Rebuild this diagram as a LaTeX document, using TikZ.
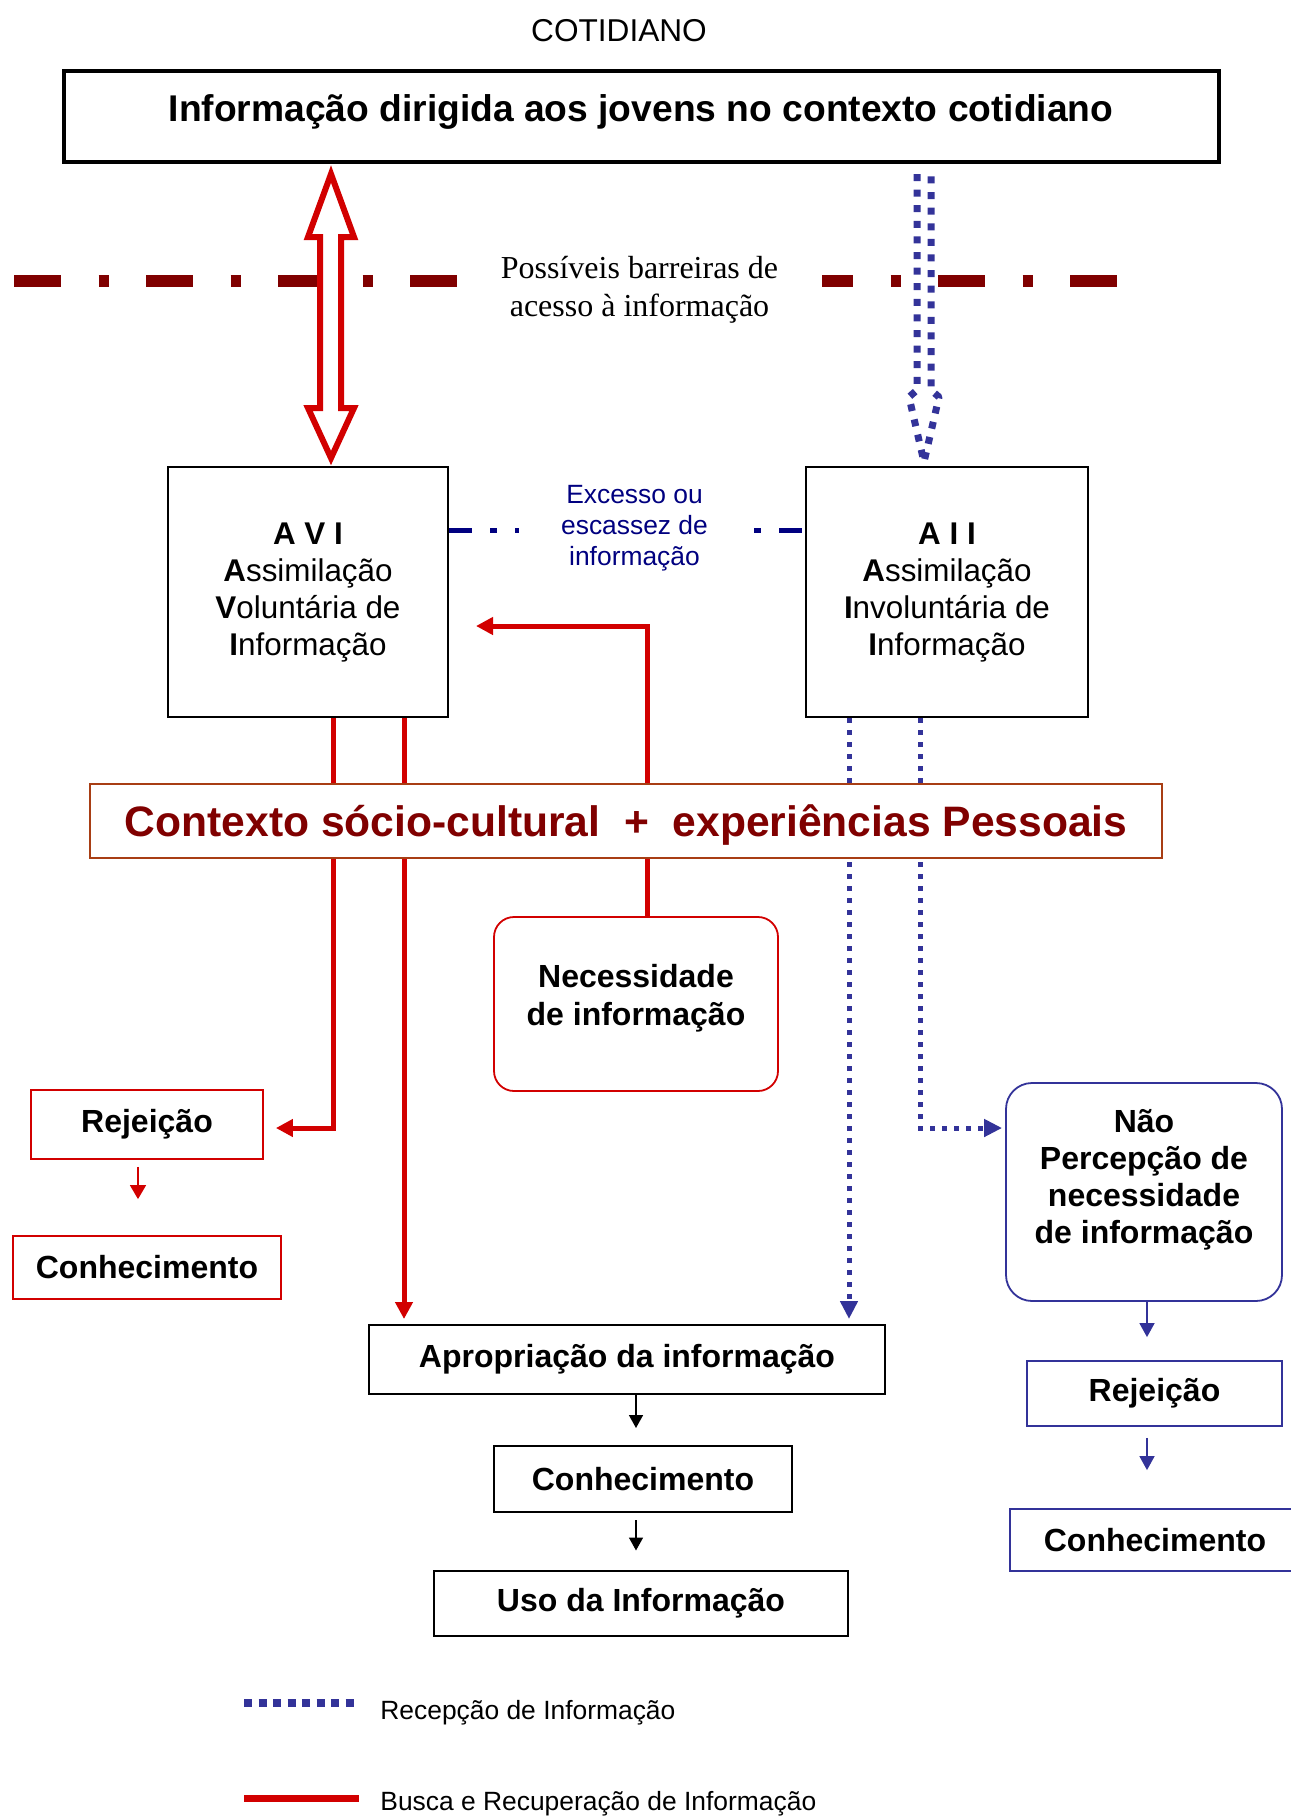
\documentclass[tikz,border=0pt]{standalone}
\usepackage{fontspec}
\setmainfont{Liberation Sans}
\newfontfamily\serifx{Liberation Serif}
\usetikzlibrary{arrows.meta,calc}
\definecolor{redA}{RGB}{210,0,0}
\definecolor{barrierred}{RGB}{128,0,0}
\definecolor{blueA}{RGB}{51,51,153}
\definecolor{navyA}{RGB}{0,0,128}
\definecolor{rust}{RGB}{168,62,20}
\definecolor{ctxred}{RGB}{128,0,0}
\tikzset{
  box/.style={draw, line width=1pt, inner sep=0pt, align=center},
  redbox/.style={draw=redA, line width=0.9pt, inner sep=0pt, align=center},
  bluebox/.style={draw=blueA, line width=0.9pt, inner sep=0pt, align=center},
  txt/.style={inner sep=0pt, align=center},
  lbl/.style={font=\fontsize{16pt}{19pt}\selectfont\bfseries},
  redline/.style={draw=redA, line width=2.5pt},
  redarrow/.style={redline, -{Triangle[length=8.5pt,width=8.5pt]}},
  bluedot/.style={draw=blueA, line width=2.5pt, dash pattern=on 2.5pt off 3.5pt},
  bluearrow/.style={bluedot, -{Triangle[length=9pt,width=8.5pt]}},
  thinred/.style={draw=redA, line width=0.8pt, -{Triangle[length=7pt,width=8pt]}},
  thinblack/.style={draw=black, line width=0.8pt, -{Triangle[length=6.5pt,width=7pt]}},
  thinblue/.style={draw=blueA, line width=0.8pt, -{Triangle[length=7pt,width=7.5pt]}},
}
\begin{document}
\begin{tikzpicture}[x=0.5pt,y=-0.5pt]
\useasboundingbox (0,0) rectangle (1291,1816);

% title
\node[txt, font=\fontsize{15.8pt}{18pt}\selectfont] (cot) at (619,31) {COTIDIANO};

% top box
\node[box, line width=1.75pt, minimum width=577.5pt, minimum height=45.5pt] (top) at (641.5,116.5) {};
\node[txt, font=\fontsize{18.6pt}{22pt}\selectfont\bfseries] (toptxt) at (641,112) {Informação dirigida aos jovens no contexto cotidiano};

% barrier line
\draw[barrierred, line width=6pt, dash pattern=on 23.5pt off 18.75pt on 5pt off 18.75pt] (14,281) -- (1118,281);
\node[txt, fill=white, minimum width=182.5pt, minimum height=40pt, font=\serifx\fontsize{16pt}{19pt}\selectfont] (barr) at (639.5,289.5) {Possíveis barreiras de\\acesso à informação};

% main boxes
\node[box, minimum width=140pt, minimum height=125pt] (avi) at (308,592) {};
\node[txt, font=\fontsize{15.7pt}{18.5pt}\selectfont] (avitxt) at (308,593)
  {\textbf{A V I}\\\textbf{A}ssimilação\\\textbf{V}oluntária de\\\textbf{I}nformação};
\node[box, minimum width=141pt, minimum height=125pt] (aii) at (947,592) {};
\node[txt, font=\fontsize{15.7pt}{18.5pt}\selectfont] (aiitxt) at (947,593)
  {\textbf{A I I}\\\textbf{A}ssimilação\\\textbf{I}nvoluntária de\\\textbf{I}nformação};

% hollow red double arrow
\draw[redA, line width=3pt, fill=white, line join=miter]
  (331,174) -- (354,237) -- (341,237) -- (341,408) -- (354,408) -- (331,458)
  -- (308,408) -- (320,408) -- (320,237) -- (308,237) -- cycle;
% hollow blue dotted arrow
\fill[white] (917,174) -- (917,390) -- (909,397) -- (924,462) -- (939,397) -- (931,390) -- (931,174) -- cycle;
\draw[blueA, line width=3.5pt, line join=round, dash pattern=on 3.5pt off 4.3pt]
  (917,174) -- (917,390) -- (909,397) -- (924,462) -- (939,397) -- (931,390) -- (931,174);

% excess / scarcity line
\draw[navyA, line width=2.5pt, dash pattern=on 11.5pt off 9pt on 3.5pt off 9pt] (avi.east |- 0,530) -- (aii.west |- 0,530);
\node[txt, fill=white, minimum width=115.5pt, minimum height=46pt, text=navyA, font=\fontsize{13.2pt}{15.5pt}\selectfont] (exc) at (634.5,528.5) {Excesso ou\\escassez de\\informação};

% other boxes
\node[redbox, rounded corners=10pt, minimum width=142pt, minimum height=87pt] (nec) at (636,1004) {};
\node[txt, lbl] (nectxt) at (636,998.5) {Necessidade\\de informação};
\node[redbox, lbl, minimum width=116pt, minimum height=34.5pt] (rejL) at (147,1124.5) {Rejeição};
\node[redbox, lbl, minimum width=134pt, minimum height=31.5pt] (conhL) at (147,1267.5) {Conhecimento};
\node[box, lbl, minimum width=258pt, minimum height=34.5pt] (apr) at (627,1359.5) {Apropriação da informação};
\node[box, lbl, minimum width=149pt, minimum height=33pt] (conhM) at (643,1479) {Conhecimento};
\node[box, lbl, minimum width=207pt, minimum height=32.5pt] (uso) at (641,1603) {Uso da Informação};
\node[bluebox, rounded corners=13pt, minimum width=138pt, minimum height=109pt] (nao) at (1144,1192) {};
\node[txt, font=\fontsize{16pt}{18.5pt}\selectfont\bfseries] (naotxt) at (1144,1180) {Não\\Percepção de\\necessidade\\de informação};
\node[bluebox, lbl, minimum width=127.5pt, minimum height=32.5pt] (rejR) at (1154.5,1393.5) {Rejeição};
\node[bluebox, lbl, minimum width=145pt, minimum height=31pt] (conhR) at (1155,1540) {Conhecimento};

% red connectors
\draw[redarrow, shorten >=13.5pt] (nec.north -| 647,0) |- (avi.east |- 0,626);
\draw[redarrow, shorten >=6pt] (avi.south -| 333,0) |- (rejL.east |- 0,1128);
\draw[redarrow, shorten >=2.5pt] (avi.south -| 404,0) -- (apr.north -| 404,0);
% blue connectors
\draw[bluearrow, shorten >=2.5pt] (aii.south -| 849,0) -- (apr.north -| 849,0);
\draw[bluearrow, shorten >=1.5pt] (aii.south -| 920,0) |- (nao.west |- 0,1128);

% context box on top
\node[draw=rust, line width=0.9pt, fill=white, minimum width=536pt, minimum height=37pt, inner sep=0pt] (ctx) at (626,821) {};
\node[txt, text=ctxred, font=\fontsize{21.3pt}{24pt}\selectfont\bfseries] (ctxtxt) at (626,825.5)
  {Contexto sócio-cultural\ \ +\ \ experiências Pessoais};

% small arrows
\draw[thinred, shorten <=3.5pt, shorten >=18pt] (rejL.south -| 138,0) -- (conhL.north -| 138,0);
\draw[thinblack, shorten >=8.5pt] (apr.south -| 636,0) -- (conhM.north -| 636,0);
\draw[thinblack, shorten <=3.5pt, shorten >=9.5pt] (conhM.south -| 636,0) -- (uso.north -| 636,0);
\draw[thinblue, shorten >=11.5pt] (nao.south -| 1147,0) -- (rejR.north -| 1147,0);
\draw[thinblue, shorten <=5.5pt, shorten >=19pt] (rejR.south -| 1147,0) -- (conhR.north -| 1147,0);

% legend
\coordinate (l1a) at (244,1703);
\coordinate (l1b) at (359,1703);
\draw[blueA, line width=4pt, dash pattern=on 4pt off 3.25pt] (l1a) -- (l1b);
\node[txt, anchor=west, font=\fontsize{13.2pt}{16pt}\selectfont] (leg1) at (380,1712.5) {Recepção de Informação};
\coordinate (l2a) at (244,1798);
\coordinate (l2b) at (359,1798);
\draw[redA, line width=3.5pt] (l2a) -- (l2b);
\node[txt, anchor=west, font=\fontsize{13.2pt}{16pt}\selectfont] (leg2) at (380,1803.5) {Busca e Recuperação de Informação};
\end{tikzpicture}
\end{document}
